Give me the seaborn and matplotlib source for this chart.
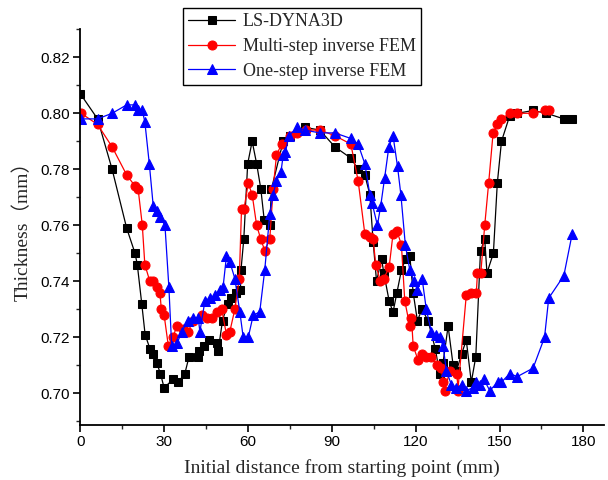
import matplotlib
matplotlib.use("Agg")
import matplotlib.pyplot as plt
from matplotlib.ticker import MultipleLocator
import seaborn as sns

# LS-DYNA3D (black squares)
ls_x = [0.0, 6.2, 11.4, 16.6, 19.6, 20.4, 22.0, 23.2, 24.9, 26.1, 27.3, 28.7, 30.0,
        33.2, 35.0, 37.4, 38.9, 42.0, 42.4, 44.3, 46.1, 49.1, 49.3, 50.9, 52.7, 54.1,
        55.6, 57.3, 57.5, 58.5, 59.9, 61.5, 63.1, 64.6, 65.8, 67.8, 68.4, 72.6, 75.0,
        80.3, 85.7, 91.1, 96.8, 99.4, 101.8, 103.6, 104.8, 106.0, 107.8, 108.6, 110.5,
        111.9, 113.3, 114.9, 116.4, 117.9, 119.1, 120.6, 122.3, 124.4, 127.0, 128.6,
        129.8, 131.6, 133.4, 134.6, 136.4, 138.1, 139.9, 141.5, 143.2, 144.7, 145.5,
        147.8, 149.2, 150.7, 153.6, 156.4, 162.0, 166.8, 173.0, 176.0]
ls_y = [0.807, 0.798, 0.780, 0.759, 0.750, 0.746, 0.732, 0.721, 0.716, 0.714, 0.711, 0.707, 0.702,
        0.705, 0.704, 0.707, 0.713, 0.713, 0.715, 0.717, 0.719, 0.718, 0.715, 0.726, 0.732, 0.734,
        0.736, 0.737, 0.744, 0.755, 0.782, 0.790, 0.782, 0.773, 0.762, 0.760, 0.773, 0.790, 0.792,
        0.795, 0.794, 0.788, 0.784, 0.780, 0.778, 0.771, 0.754, 0.740, 0.748, 0.743, 0.733,
        0.729, 0.736, 0.744, 0.748, 0.749, 0.736, 0.726, 0.730, 0.726, 0.716, 0.707,
        0.711, 0.724, 0.710, 0.708, 0.714, 0.719, 0.704, 0.713, 0.751, 0.755, 0.743,
        0.750, 0.775, 0.790, 0.799, 0.800, 0.801, 0.800, 0.798, 0.798]

# Multi-step inverse FEM (red circles)
ms_x = [0.3, 6.2, 11.4, 16.6, 19.6, 20.7, 22.2, 23.1, 24.9, 26.1, 27.3, 28.5, 29.0, 30.0,
        31.5, 33.2, 34.5, 36.8, 38.6, 40.4, 43.4, 45.2, 47.0, 48.8, 50.6, 52.3, 53.5, 55.3,
        56.9, 57.7, 58.6, 60.1, 61.5, 63.1, 64.6, 66.0, 67.8, 69.0, 70.2, 72.0, 75.0, 77.4,
        80.9, 85.7, 91.1, 96.8, 99.4, 101.8, 103.6, 104.8, 105.7, 107.4, 108.6, 110.5,
        111.9, 113.3, 114.9, 116.1, 117.9, 118.5, 119.1, 120.8, 122.1, 123.8, 125.6, 127.6,
        129.2, 129.8, 130.4, 132.2, 134.8, 135.1, 138.1, 139.9, 141.7, 142.1, 143.3, 144.7,
        146.1, 147.7, 149.2, 150.7, 153.6, 156.4, 162.0, 166.1, 167.6]
ms_y = [0.800, 0.796, 0.788, 0.778, 0.774, 0.773, 0.760, 0.746, 0.740, 0.740, 0.738, 0.736, 0.730, 0.728,
        0.717, 0.720, 0.724, 0.723, 0.722, 0.726, 0.728, 0.727, 0.727, 0.729, 0.730, 0.721, 0.722, 0.730,
        0.741, 0.766, 0.766, 0.775, 0.771, 0.760, 0.755, 0.751, 0.755, 0.773, 0.785, 0.789, 0.792, 0.793,
        0.794, 0.794, 0.792, 0.789, 0.776, 0.757, 0.756, 0.755, 0.746, 0.740, 0.741, 0.745,
        0.757, 0.758, 0.753, 0.733, 0.724, 0.727, 0.717, 0.712, 0.714, 0.713, 0.713, 0.710,
        0.709, 0.704, 0.701, 0.708, 0.707, 0.701, 0.735, 0.736, 0.736, 0.743, 0.743, 0.760,
        0.775, 0.793, 0.796, 0.798, 0.800, 0.800, 0.800, 0.801, 0.801]

# One-step inverse FEM (blue triangles)
os_x = [0.3, 6.2, 11.4, 16.6, 19.6, 20.7, 22.2, 23.1, 24.7, 26.1, 27.3, 28.5, 30.3, 31.7,
        32.7, 34.7, 36.3, 38.6, 40.4, 42.2, 42.8, 44.6, 46.4, 48.2, 49.9, 51.1, 52.3, 53.5,
        55.3, 57.1, 58.3, 60.1, 61.9, 64.2, 66.0, 67.8, 69.0, 70.2, 71.8, 72.6, 73.4, 74.6,
        77.7, 80.3, 85.7, 91.1, 96.8, 99.4, 101.8, 103.6, 104.4, 106.3, 107.5, 108.9, 110.4,
        111.9, 113.5, 114.7, 116.3, 117.9, 119.4, 120.6, 122.3, 123.8, 125.6, 127.1, 128.6,
        129.8, 131.0, 132.8, 134.6, 136.4, 138.1, 140.5, 141.7, 142.9, 144.4, 146.5, 149.4,
        150.7, 153.6, 156.4, 162.0, 166.1, 167.6, 173.0, 176.0]
os_y = [0.798, 0.798, 0.800, 0.803, 0.803, 0.801, 0.801, 0.797, 0.782, 0.767, 0.765, 0.763, 0.760, 0.738,
        0.717, 0.718, 0.722, 0.726, 0.727, 0.727, 0.722, 0.733, 0.734, 0.735, 0.737, 0.738, 0.749, 0.747,
        0.741, 0.729, 0.720, 0.720, 0.728, 0.729, 0.744, 0.764, 0.771, 0.776, 0.779, 0.785, 0.786, 0.792,
        0.795, 0.794, 0.793, 0.793, 0.791, 0.789, 0.782, 0.771, 0.768, 0.760, 0.767, 0.777, 0.788,
        0.792, 0.781, 0.771, 0.753, 0.744, 0.740, 0.737, 0.741, 0.730, 0.722, 0.721, 0.720,
        0.717, 0.708, 0.703, 0.702, 0.703, 0.701, 0.702, 0.704, 0.703, 0.705, 0.701, 0.704,
        0.704, 0.707, 0.706, 0.709, 0.720, 0.734, 0.742, 0.757]

series = [
    ("LS-DYNA3D", ls_x, ls_y, "black", "s", 6.0),
    ("Multi-step inverse FEM", ms_x, ms_y, "red", "o", 6.5),
    ("One-step inverse FEM", os_x, os_y, "blue", "^", 7.0),
]

sns.set_style("ticks")
serif = ["Liberation Serif", "Noto Sans CJK SC", "DejaVu Serif"]
plt.rcParams["font.family"] = ["Liberation Sans", "DejaVu Sans"]

fig = plt.figure(figsize=(6.08, 4.80), dpi=100)
ax = fig.add_axes([0.132, 0.1146, 0.862, 0.825])

for name, xs, ys, col, mk, ms in series:
    sns.lineplot(x=xs, y=ys, ax=ax, color=col, marker=mk, markersize=ms,
                 markeredgecolor=col, linewidth=0.9, sort=False, estimator=None,
                 label=name)

ax.set_xlim(0, 187.5)
ax.set_ylim(0.6887, 0.8301)
ax.xaxis.set_major_locator(MultipleLocator(30))
ax.xaxis.set_minor_locator(MultipleLocator(15))
ax.yaxis.set_major_locator(MultipleLocator(0.02))
ax.yaxis.set_minor_locator(MultipleLocator(0.01))
ax.yaxis.set_major_formatter(matplotlib.ticker.FormatStrFormatter("%.2f"))
ax.tick_params(which="major", direction="out", length=5, width=1.2, labelsize=11,
               colors="black", pad=2.5)
ax.tick_params(which="minor", direction="out", length=3, width=1.0)
for s in ["top", "right"]:
    ax.spines[s].set_visible(False)
for s in ["left", "bottom"]:
    ax.spines[s].set_linewidth(1.3)
    ax.spines[s].set_color("black")

ax.set_xlabel("Initial distance from starting point (mm)", family=serif, fontsize=14, labelpad=7)
ax.set_ylabel("Thickness（mm）", family=serif, fontsize=14, labelpad=6)

leg = ax.legend(loc="upper left", bbox_to_anchor=(183 / 608, 1 - 8 / 480),
                bbox_transform=fig.transFigure, frameon=True, fancybox=False,
                edgecolor="black", prop={"family": serif, "size": 13},
                handlelength=2.6, borderpad=0.3, labelspacing=0.42, handletextpad=0.4,
                borderaxespad=0)
leg.get_frame().set_linewidth(1.0)
leg.get_frame().set_alpha(1)

fig.savefig("out.png", dpi=100)
